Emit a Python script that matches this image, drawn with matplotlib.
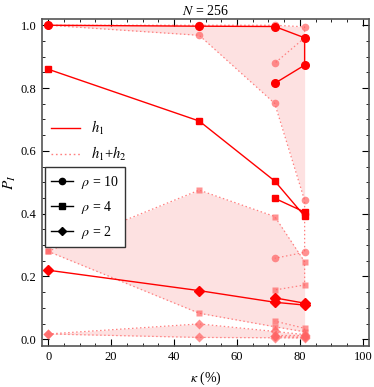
import matplotlib
matplotlib.use("Agg")
import matplotlib.pyplot as plt
from matplotlib.lines import Line2D
from matplotlib.ticker import MultipleLocator

plt.rcParams["font.family"] = ["Liberation Serif", "DejaVu Serif"]
plt.rcParams["mathtext.fontset"] = "stix"

# kappa (%) positions; paths go out along variant A and come back along variant B
kappa = [0, 48, 72, 81.5]
kappa_path = [0, 48, 72, 81.5, 81.5, 72]

# h1 (solid)
h1_rho10 = [1.0, 0.997, 0.996, 0.96, 0.873, 0.815]
h1_rho4 = [0.86, 0.695, 0.504, 0.392, 0.405, 0.449]
h1_rho2 = [0.22, 0.155, 0.118, 0.109, 0.115, 0.132]

# h1+h2 (dotted), upper and lower branches
h12_rho10_hi = [1.0, 1.0, 1.0, 0.995, 0.96, 0.879]
h12_rho10_lo = [1.0, 0.968, 0.751, 0.442, 0.277, 0.258]
h12_rho4_hi = [0.28, 0.475, 0.391, 0.247, 0.173, 0.157]
h12_rho4_lo = [0.28, 0.083, 0.04, 0.024, 0.035, 0.058]
h12_rho2_hi = [0.017, 0.049, 0.025, 0.015, 0.012, 0.012]
h12_rho2_lo = [0.017, 0.006, 0.005, 0.004, 0.007, 0.009]

markers = {10: "o", 4: "s", 2: "D"}
marker_sizes = {10: 5.5, 4: 5, 2: 5}

fig = plt.figure(figsize=(3.74, 3.87), dpi=100)
ax = fig.add_axes([0.112, 0.107, 0.875, 0.844])

fill_color = "#fde1e1"
light = "#ff8080"

# shaded bands between the h1+h2 branches
for hi, lo in [(h12_rho10_hi, h12_rho10_lo), (h12_rho4_hi, h12_rho4_lo),
               (h12_rho2_hi, h12_rho2_lo)]:
    ax.fill_between(kappa, lo[:4], hi[:4], color=fill_color, lw=0, zorder=1)

dotted = [(10, h12_rho10_hi), (10, h12_rho10_lo), (4, h12_rho4_hi),
          (4, h12_rho4_lo), (2, h12_rho2_hi), (2, h12_rho2_lo)]
for rho, vals in dotted:
    ax.plot(kappa_path, vals, ls=(0, (1.2, 2)), lw=0.9, color=light,
            marker=markers[rho], ms=marker_sizes[rho], mec="none",
            mfc=(1, 0.39, 0.39, 0.7), zorder=2)

solid = [(10, h1_rho10), (4, h1_rho4), (2, h1_rho2)]
for rho, vals in solid:
    ax.plot(kappa_path, vals, ls="-", lw=1.0, color="red",
            marker=markers[rho], ms=marker_sizes[rho], mec="red", mfc="red",
            zorder=3)

ax.set_xlim(-2, 102)
ax.set_ylim(-0.02, 1.02)
ax.xaxis.set_major_locator(MultipleLocator(20))
ax.xaxis.set_minor_locator(MultipleLocator(5))
ax.yaxis.set_major_locator(MultipleLocator(0.2))
ax.yaxis.set_minor_locator(MultipleLocator(0.05))
ax.yaxis.set_major_formatter(matplotlib.ticker.FormatStrFormatter("%.1f"))
ax.tick_params(which="both", direction="in", top=True, right=True,
               labelsize=9, color="black", pad=4)
ax.tick_params(which="major", length=5, width=0.8)
ax.tick_params(which="minor", length=2.5, width=0.6)
for sp in ax.spines.values():
    sp.set_color("#555555")
    sp.set_linewidth(1.2)

ax.set_title("$N$ = 256", fontsize=10, pad=3)
ax.set_xlabel(r"$\kappa$ (%)", fontsize=10, labelpad=5)
ax.set_ylabel("$P_I$", fontsize=11, labelpad=2)

h_leg = [Line2D([], [], color="red", lw=1.0),
         Line2D([], [], color=light, lw=1.0, ls=(0, (1.2, 2)))]
leg1 = ax.legend(h_leg, ["$h_1$", "$h_1$+$h_2$"], loc="upper left",
                 bbox_to_anchor=(0.0, 0.72), frameon=False, fontsize=10.5,
                 handlelength=2.0, labelspacing=0.55, borderaxespad=0.2)
ax.add_artist(leg1)

r_leg = [Line2D([], [], color="black", lw=1.0, marker=markers[r], ms=4.5)
         for r in (10, 4, 2)]
leg2 = ax.legend(r_leg, [r"$\rho$ = 10", r"$\rho$ = 4", r"$\rho$ = 2"],
                 loc="upper left", bbox_to_anchor=(0.008, 0.546), fontsize=10,
                 frameon=True, fancybox=False, edgecolor="#333333",
                 framealpha=1, handlelength=1.6, labelspacing=0.6,
                 borderpad=0.45, borderaxespad=0.0, handletextpad=0.6)
leg2.get_frame().set_linewidth(1.0)

fig.savefig("out.png", dpi=100)
